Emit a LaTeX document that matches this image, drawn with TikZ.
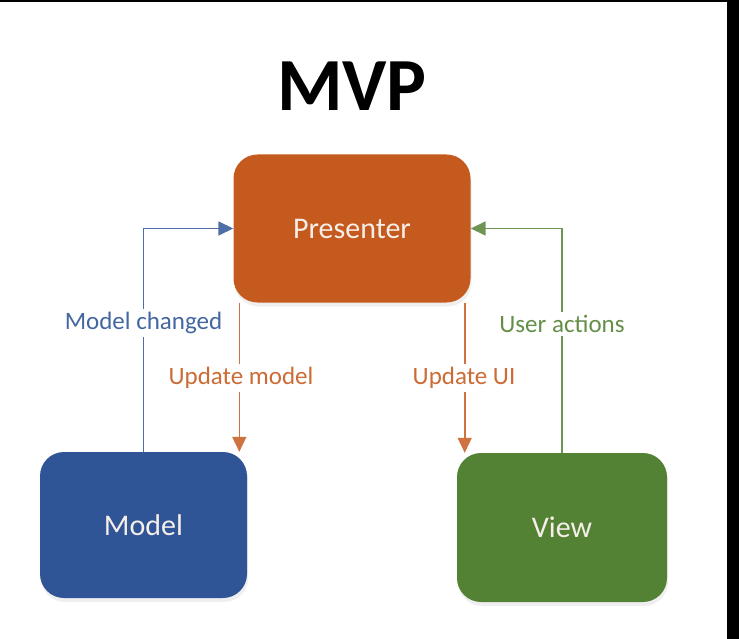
\documentclass[tikz,border=0pt]{standalone}
\usepackage{fontspec}
\setmainfont{Carlito}
\usetikzlibrary{arrows.meta,shadows,calc}
\definecolor{presC}{HTML}{C55A1E}
\definecolor{modelC}{HTML}{2F5597}
\definecolor{viewC}{HTML}{548235}
\definecolor{boxtext}{HTML}{F6EEE8}
\tikzset{
  box/.style={rounded corners=24pt, draw=none, text=boxtext,
    font=\fontsize{30}{36}\selectfont, inner sep=0pt,
    drop shadow={shadow xshift=1pt, shadow yshift=-4pt, opacity=0.10, fill=black!60}},
  conn/.style={line width=1.6pt, -{Triangle[length=15pt,width=14pt]}},
  lbl/.style={fill=white, inner sep=3pt, font=\fontsize{25}{30}\selectfont}
}
\begin{document}
\begin{tikzpicture}[x=1pt,y=-1pt]
\useasboundingbox (0,0) rectangle (739,639);
\fill[white] (0,0) rectangle (739,639);
\fill[black] (0,0) rectangle (739,1.6);
\fill[black] (727,0) rectangle (739,639);

\node[font=\fontsize{75}{80}\selectfont\bfseries] (title) at (352,86) {MVP};

\node[box, fill=presC, minimum width=237pt, minimum height=148pt] (P) at (352,228.5) {Presenter};
\node[box, fill=modelC, minimum width=207pt, minimum height=146pt] (M) at (143.5,525) {Model};
\node[box, fill=viewC, minimum width=210pt, minimum height=149pt] (V) at (562,527.5) {View};

\draw[conn, modelC!85!white] (M.north) |- (P.west);
\draw[conn, viewC!85!white] (V.north) |- (P.east);

\coordinate (a) at ([xshift=6pt]P.south west);
\coordinate (b) at ([xshift=-6pt]P.south east);
\draw[conn, presC!85!white] (a) -- (a |- M.north);
\draw[conn, presC!85!white] (b) -- (b |- V.north);

\node[lbl, text=modelC!90!white] (lm) at (143.5,323) {Model changed};
\node[lbl, text=presC!90!white] (lu) at (241,378) {Update model};
\node[lbl, text=presC!90!white] (lui) at (464,378) {Update UI};
\node[lbl, text=viewC!90!white] (la) at (562,324) {User actions};
\end{tikzpicture}
\end{document}
